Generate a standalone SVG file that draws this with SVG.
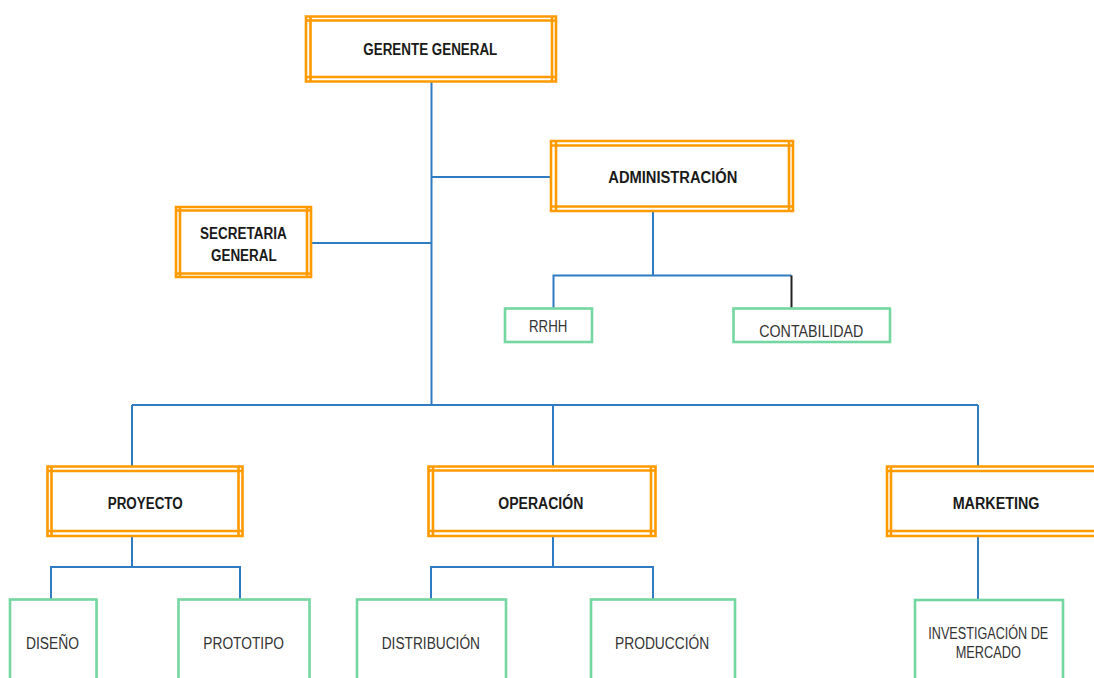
<svg xmlns="http://www.w3.org/2000/svg" width="1094" height="678" viewBox="0 0 1094 678">
<style>
.o{fill:none;stroke:#ff9a00;stroke-width:2.6}
.g{fill:none;stroke:#74d6a0;stroke-width:2.6}
.c{fill:none;stroke:#2f7cc3;stroke-width:2}
.k{fill:none;stroke:#222;stroke-width:2}
.b{font-family:"Liberation Sans",Arial,sans-serif;font-weight:bold;font-size:16px;fill:#1a1a1a}
.r{font-family:"Liberation Sans",Arial,sans-serif;font-size:16px;fill:#333}
</style>
<rect width="1094" height="678" fill="#fff"/>
<g id="connectors">
<path class="c" d="M431.5 82V405M311 243H431.5M431.5 177H551M132 405H978M132 405V466M553 405V466M978 405V466"/>
<path class="c" d="M653 211V275.5H553.5V308M653 275.5H791.5"/>
<path class="k" d="M791.5 275.5V308"/>
<path class="c" d="M132 536V567M51 599V567H240V599"/>
<path class="c" d="M553 536V567M431 599V567H653V599"/>
<path class="c" d="M978 536V600"/>
</g>
<g id="gerente">
<path class="o" d="M306 16.5H556V81.5H306Z M306 20.5H556 M306 77H556 M310.5 16.5V81.5 M552 16.5V81.5"/>
<text class="b" x="363.3" y="55" textLength="134" lengthAdjust="spacingAndGlyphs">GERENTE GENERAL</text>
</g>
<g id="administracion">
<path class="o" d="M551 141H793V211H551Z M551 145.5H793 M551 206.5H793 M556 141V211 M789 141V211"/>
<text class="b" x="608.3" y="183" textLength="129" lengthAdjust="spacingAndGlyphs">ADMINISTRACIÓN</text>
</g>
<g id="secretaria">
<path class="o" d="M176 207H311V277H176Z M176 210.5H311 M176 273.5H311 M180 207V277 M307 207V277"/>
<text class="b" x="200" y="239" textLength="86.7" lengthAdjust="spacingAndGlyphs">SECRETARIA</text>
<text class="b" x="211" y="261" textLength="65.7" lengthAdjust="spacingAndGlyphs">GENERAL</text>
</g>
<g id="rrhh">
<rect class="g" x="505" y="308.5" width="87" height="33.5"/>
<text class="r" x="529" y="332" textLength="38.3" lengthAdjust="spacingAndGlyphs">RRHH</text>
</g>
<g id="contabilidad">
<rect class="g" x="733.5" y="308.5" width="156.5" height="33.5"/>
<text class="r" x="759.3" y="337.3" textLength="104" lengthAdjust="spacingAndGlyphs">CONTABILIDAD</text>
</g>
<g id="proyecto">
<path class="o" d="M47.5 466.5H242.5V536H47.5Z M47.5 471H242.5 M47.5 531H242.5 M51.5 466.5V536 M238.5 466.5V536"/>
<text class="b" x="107.7" y="508.5" textLength="75" lengthAdjust="spacingAndGlyphs">PROYECTO</text>
</g>
<g id="operacion">
<path class="o" d="M428.5 466.5H655.5V536H428.5Z M428.5 470.5H655.5 M428.5 531H655.5 M433 466.5V536 M651 466.5V536"/>
<text class="b" x="498.3" y="509" textLength="85" lengthAdjust="spacingAndGlyphs">OPERACIÓN</text>
</g>
<g id="marketing">
<path class="o" d="M1100 466.5H887V536H1100 M887 471H1100 M887 531H1100 M891 466.5V536"/>
<text class="b" x="952.7" y="509" textLength="86.7" lengthAdjust="spacingAndGlyphs">MARKETING</text>
</g>
<g id="diseno">
<rect class="g" x="10" y="599.5" width="86.5" height="100"/>
<text class="r" x="26" y="649" textLength="53" lengthAdjust="spacingAndGlyphs">DISEÑO</text>
</g>
<g id="prototipo">
<rect class="g" x="178.5" y="599.5" width="131" height="100"/>
<text class="r" x="203.3" y="649" textLength="80.7" lengthAdjust="spacingAndGlyphs">PROTOTIPO</text>
</g>
<g id="distribucion">
<rect class="g" x="357" y="599.5" width="149" height="100"/>
<text class="r" x="381.7" y="649" textLength="98.3" lengthAdjust="spacingAndGlyphs">DISTRIBUCIÓN</text>
</g>
<g id="produccion">
<rect class="g" x="591" y="599.5" width="144" height="100"/>
<text class="r" x="615" y="649" textLength="94.3" lengthAdjust="spacingAndGlyphs">PRODUCCIÓN</text>
</g>
<g id="investigacion">
<rect class="g" x="915" y="600" width="148" height="100"/>
<text class="r" x="928.3" y="638.5" textLength="120" lengthAdjust="spacingAndGlyphs">INVESTIGACIÓN DE</text>
<text class="r" x="955.7" y="658.3" textLength="65.3" lengthAdjust="spacingAndGlyphs">MERCADO</text>
</g>
</svg>
